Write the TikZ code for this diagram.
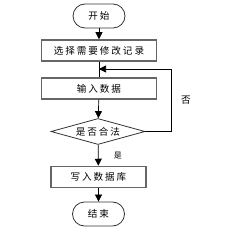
\documentclass[tikz,border=0pt]{standalone}
\usepackage{fontspec}
\newfontfamily\cjk[LetterSpace=20]{Noto Sans CJK SC}
\usetikzlibrary{arrows.meta,positioning,shapes.geometric}

\begin{document}
\begin{tikzpicture}[x=1pt,y=-1pt,font=\cjk\fontsize{9.6}{11}\selectfont,
  term/.style={draw=black!80,line width=0.8pt,rounded corners=12pt,minimum width=52pt,minimum height=24pt,inner sep=0pt},
  proc/.style={draw=black!60,line width=1.5pt,minimum width=115pt,minimum height=21pt,inner sep=0pt},
  dec/.style={diamond,draw=black!80,line width=0.8pt,aspect=3.6,minimum width=94pt,minimum height=26pt,inner sep=0pt},
  flow/.style={draw=black,line width=0.7pt,-{Triangle[length=7pt,width=7pt]}}]
\useasboundingbox (0,0) rectangle (230,232);
\node[term] (st) at (99,16) {开始};
\node[proc] (sel) at (99,50.5) {选择需要修改记录};
\node[proc] (inp) at (99,88.5) {输入数据};
\node[dec] (chk) at (98,131.5) {是否合法};
\node[proc,minimum width=95pt] (wr) at (98.5,177) {写入数据库};
\node[term] (ed) at (98.5,214) {结束};
\coordinate (back) at (99,69);
\draw[flow] (st) -- (sel);
\draw[draw=black,line width=0.7pt] (sel) -- (inp);
\draw[flow] (inp) -- (chk);
\draw[flow] (chk) -- node[right=12pt,font=\cjk\fontsize{8}{10}\selectfont]{是} (wr);
\draw[flow] (wr) -- (ed);
\draw[flow] (chk.east) -- ++(26,0) |- (back);
\node (no) at (186,100) {否};
\end{tikzpicture}
\end{document}
